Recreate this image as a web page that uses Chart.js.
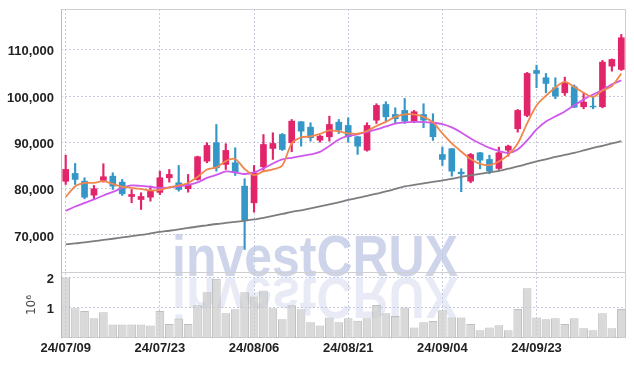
<!DOCTYPE html>
<html>
<head>
<meta charset="utf-8">
<script src="https://cdn.jsdelivr.net/npm/chart.js@4.4.1/dist/chart.umd.min.js"></script>
<style>
  html, body { margin: 0; padding: 0; background: #fff; }
  #wrap { width: 634px; height: 366px; }
</style>
</head>
<body>
<div id="wrap"><canvas id="chart-candle" width="634" height="366"></canvas></div>
<script>
var dates = [
  '24/07/09','24/07/10','24/07/11','24/07/12','24/07/15','24/07/16','24/07/17','24/07/18','24/07/19','24/07/22',
  '24/07/23','24/07/24','24/07/25','24/07/26','24/07/29','24/07/30','24/07/31','24/08/01','24/08/02','24/08/05',
  '24/08/06','24/08/07','24/08/08','24/08/09','24/08/12','24/08/13','24/08/14','24/08/16','24/08/19','24/08/20',
  '24/08/21','24/08/22','24/08/23','24/08/26','24/08/27','24/08/28','24/08/29','24/08/30','24/09/02','24/09/03',
  '24/09/04','24/09/05','24/09/06','24/09/09','24/09/10','24/09/11','24/09/12','24/09/13','24/09/19','24/09/20',
  '24/09/23','24/09/24','24/09/25','24/09/26','24/09/27','24/09/30','24/10/02','24/10/04','24/10/07','24/10/08'
];
var dateTicks = ['24/07/09', '24/07/23', '24/08/06', '24/08/21', '24/09/04', '24/09/23'];

var opens = [
  81600, 83280, 81620, 78600, 81770, 82700, 81400, 78310, 77660, 78160,
  79200, 82350, 81270, 79980, 81980, 85940, 89910, 85240, 85590, 80540,
  76950, 84730, 88680, 91700, 89910, 94450, 93280, 90470, 91210, 94360,
  93650, 91210, 88310, 94790, 98180, 96020, 96890, 94580, 96020, 94230,
  87380, 88620, 83560, 81620, 87750, 86310, 84360, 88310, 92940, 95810,
  105530, 103950, 101790, 100710, 102010, 97690, 97820, 97690, 106460, 105740
];
var highs = [
  87200, 85440, 82350, 80690, 85380, 83430, 81990, 79830, 79110, 80540,
  83780, 84140, 85010, 83070, 87020, 89910, 93860, 89700, 88830, 82140,
  85010, 91700, 92070, 91920, 94940, 94510, 94230, 91490, 95660, 94940,
  95310, 91280, 94230, 98340, 98770, 97470, 99480, 96890, 98340, 96180,
  88960, 88680, 84300, 87600, 87820, 87230, 88960, 89400, 97100, 105100,
  106670, 104880, 103950, 104080, 102400, 100560, 99980, 107690, 108010, 113300
];
var lows = [
  80900, 80900, 77820, 77670, 81400, 79830, 78530, 76950, 75500, 77300,
  78700, 81400, 79460, 79240, 81830, 85590, 83780, 84140, 82850, 66860,
  74920, 83930, 86310, 88250, 88000, 89180, 90260, 90040, 90260, 91920,
  90040, 87400, 88100, 94080, 94580, 94080, 94080, 94230, 93150, 90410,
  85010, 82700, 79330, 81270, 84300, 83220, 84140, 87020, 92200, 95530,
  101790, 100710, 99420, 100130, 97530, 97250, 97250, 97470, 105380, 105530
];
var closes = [
  84150, 81990, 78160, 79980, 82570, 80540, 78900, 78740, 78310, 79610,
  82350, 83070, 79820, 80900, 86890, 89330, 84510, 88250, 83560, 73190,
  83430, 89540, 89760, 88460, 94580, 92420, 91000, 91340, 93860, 92630,
  91210, 89180, 93650, 97970, 95530, 95100, 94580, 96610, 94790, 91210,
  86310, 83780, 83220, 87380, 86150, 83780, 87750, 89180, 96890, 104880,
  104880, 102720, 99980, 102870, 97600, 98680, 97650, 107320, 107900, 112590
];

var ma5 = [
  78200, 80470, 81230, 81270, 81620, 81010, 80410, 80190, 79930, 79610,
  79720, 80260, 80690, 81230, 82530, 84150, 84580, 85940, 86410, 84250,
  82910, 83710, 84150, 85010, 89760, 91060, 91270, 91810, 92570, 92350,
  91920, 91860, 92460, 93540, 94410, 95490, 96030, 96030, 95490, 94300,
  91920, 89760, 88030, 86410, 85330, 85070, 85870, 87280, 89760, 94080,
  97970, 100060, 101860, 103050, 101970, 100710, 99810, 101210, 102140, 104880
];
var ma10 = [
  75180, 76150, 76910, 77670, 78530, 79290, 80150, 80690, 80580, 80410,
  80150, 80260, 80470, 80800, 81340, 82310, 82960, 83710, 83500, 83170,
  83500, 84360, 85440, 86310, 86670, 87020, 87390, 87930, 89220, 90630,
  91380, 91710, 92250, 92790, 93430, 94020, 94300, 94410, 94360, 94230,
  93930, 93220, 92140, 90840, 89760, 88790, 88140, 87710, 88470, 90410,
  92790, 94510, 95590, 96670, 97970, 99270, 100350, 101320, 102510, 103370
];
var maLong = [
  67950, 68160, 68380, 68660, 68920, 69180, 69460, 69740, 70000, 70320,
  70650, 70910, 71190, 71510, 71830, 72090, 72370, 72590, 72810, 73060,
  73350, 73710, 74100, 74530, 74970, 75330, 75720, 76150, 76590, 77060,
  77560, 77990, 78420, 78900, 79390, 79930, 80470, 80800, 81120, 81450,
  81770, 82140, 82530, 82850, 83170, 83500, 83820, 84300, 84790, 85330,
  85870, 86350, 86850, 87280, 87710, 88250, 88790, 89260, 89760, 90260
];

// volume in millions of shares (axis title 10^6)
var volumes = [
  2.00, 0.98, 0.89, 0.65, 0.85, 0.45, 0.45, 0.45, 0.45, 0.41,
  0.89, 0.46, 0.64, 0.46, 1.08, 1.51, 1.96, 0.82, 0.95, 1.51,
  1.37, 1.57, 0.98, 0.62, 1.08, 0.95, 0.52, 0.41, 0.68, 0.52,
  0.65, 0.57, 0.65, 1.09, 0.82, 0.73, 1.01, 0.35, 0.52, 0.56,
  0.92, 0.68, 0.68, 0.46, 0.26, 0.35, 0.42, 0.26, 0.96, 1.64,
  0.68, 0.62, 0.65, 0.46, 0.65, 0.32, 0.26, 0.82, 0.32, 0.96
];

var priceTicks = [70000, 80000, 90000, 100000, 110000];
var volumeTicks = [1, 2];

var upColor = '#e2246a';
var downColor = '#3597c8';
var gridColor = '#c9cce0';
var tickFont = {family: '"Liberation Sans", sans-serif', size: 13, weight: 'bold'};

var candleColors = closes.map(function(c, i) { return c >= opens[i] ? upColor : downColor; });

// big faint logo text behind the marks, with its mirror image below
var watermark = {
  id: 'watermark',
  beforeDatasetsDraw: function(chart) {
    var ctx = chart.ctx;
    var text = 'investCRUX';
    ctx.save();
    ctx.font = 'bold 57px "Liberation Sans", Arial, sans-serif';
    ctx.textAlign = 'center';
    ctx.textBaseline = 'alphabetic';
    var sx = 286 / ctx.measureText(text).width;
    ctx.save();
    ctx.translate(315, 278);
    ctx.scale(sx, -1);
    ctx.fillStyle = 'rgba(185,194,225,0.33)';
    ctx.fillText(text, 0, 0);
    ctx.restore();
    ctx.save();
    ctx.translate(315, 276);
    ctx.scale(sx, 1);
    ctx.fillStyle = 'rgba(185,194,225,0.7)';
    ctx.fillText(text, 0, 0);
    ctx.restore();
    ctx.restore();
  }
};

var frame = {
  id: 'frame',
  beforeDatasetsDraw: function(chart) {
    var a = chart.chartArea;
    var ctx = chart.ctx;
    var sep = Math.round(chart.scales.y.bottom);
    ctx.save();
    ctx.strokeStyle = '#cfcfcf';
    ctx.lineWidth = 1;
    ctx.strokeRect(a.left + 0.5, a.top + 0.5, a.right - a.left - 1, a.bottom - a.top - 1);
    ctx.beginPath();
    ctx.moveTo(a.left, sep + 0.5);
    ctx.lineTo(a.right, sep + 0.5);
    ctx.stroke();
    ctx.strokeStyle = '#bdbdbd';
    ctx.beginPath();
    ctx.moveTo(a.left + 0.5, a.top);
    ctx.lineTo(a.left + 0.5, a.bottom);
    ctx.stroke();
    ctx.restore();
  }
};

function fixLeftAxis(s) {
  s.width = 61;
  s.paddingTop = 0;
  s.paddingBottom = 0;
}

var ctx = document.getElementById('chart-candle');
var candleChart = new Chart(ctx, {
  type: 'bar',
  data: {
    labels: dates,
    datasets: [
      {type: 'line', label: 'MA5', data: ma5, yAxisID: 'y', borderColor: '#f0874d', borderWidth: 1.8,
       pointRadius: 0, tension: 0.3, order: 0},
      {type: 'line', label: 'MA10', data: ma10, yAxisID: 'y', borderColor: '#cf57ec', borderWidth: 1.8,
       pointRadius: 0, tension: 0.3, order: 0},
      {type: 'line', label: 'MA long', data: maLong, yAxisID: 'y', borderColor: '#7d7d7d', borderWidth: 1.8,
       pointRadius: 0, tension: 0.3, order: 0},
      {label: 'wick', data: lows.map(function(l, i) { return [l, highs[i]]; }), yAxisID: 'y',
       backgroundColor: candleColors, barThickness: 1.5, grouped: false, order: 2},
      {label: 'body', data: opens.map(function(o, i) { return [o, closes[i]]; }), yAxisID: 'y',
       backgroundColor: candleColors, barThickness: 6, grouped: false, order: 1},
      {label: 'volume', data: volumes, yAxisID: 'v',
       backgroundColor: 'rgba(204,204,204,0.75)', borderColor: 'rgba(175,175,175,0.8)', borderWidth: 1,
       barPercentage: 0.92, categoryPercentage: 1, grouped: false, order: 3}
    ]
  },
  options: {
    responsive: false,
    animation: false,
    devicePixelRatio: 1,
    layout: {padding: {top: 9, right: 8, left: 0, bottom: 0}},
    plugins: {legend: {display: false}, tooltip: {enabled: false}},
    scales: {
      x: {
        grid: {color: gridColor, offset: false, drawTicks: false},
        border: {display: false, dash: [2, 2]},
        ticks: {autoSkip: false, maxRotation: 0, padding: 3, color: '#222', font: tickFont},
        afterBuildTicks: function(s) {
          s.ticks = s.ticks.filter(function(t) { return dateTicks.indexOf(dates[t.value]) >= 0; });
        },
        afterFit: function(s) { s.height = 28; }
      },
      // volume pane is listed first: the layout stacks later scales above earlier ones
      v: {
        position: 'left', stack: 'pane', stackWeight: 66,
        min: 0, max: 2.18,
        grid: {color: gridColor, drawTicks: false},
        border: {display: false, dash: [2, 2]},
        ticks: {padding: 7, labelOffset: 2, color: '#222', font: tickFont},
        title: {display: true, text: '10\u2076', color: '#444', font: {family: '"DejaVu Sans", sans-serif', size: 12}, padding: {top: 25}},
        afterBuildTicks: function(s) { s.ticks = volumeTicks.map(function(v) { return {value: v}; }); },
        afterFit: fixLeftAxis
      },
      y: {
        position: 'left', stack: 'pane', stackWeight: 263,
        min: 62000, max: 118800,
        grid: {color: gridColor, drawTicks: false},
        border: {display: false, dash: [2, 2]},
        ticks: {padding: 7, labelOffset: 2, color: '#222', font: tickFont},
        afterBuildTicks: function(s) { s.ticks = priceTicks.map(function(v) { return {value: v}; }); },
        afterFit: fixLeftAxis
      }
    }
  },
  plugins: [watermark, frame]
});
</script>
</body>
</html>
